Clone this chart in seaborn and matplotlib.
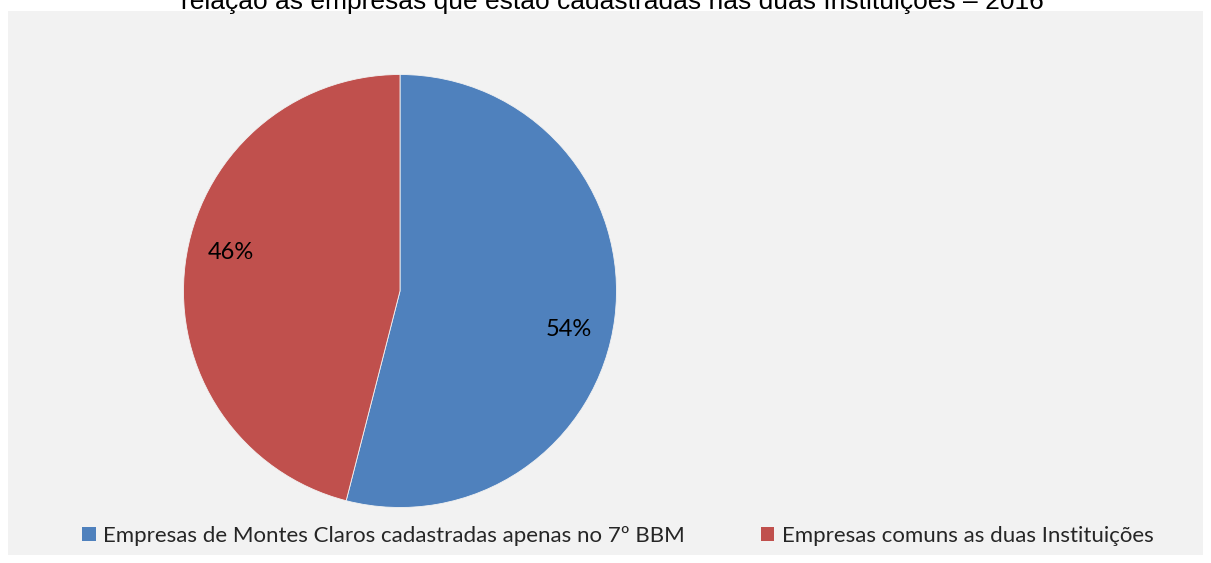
import matplotlib
matplotlib.use("Agg")
import numpy as np
import matplotlib.pyplot as plt
import seaborn as sns
from matplotlib.patches import Rectangle, Patch

categories = ["Empresas de Montes Claros cadastradas apenas no 7º BBM",
              "Empresas comuns as duas Instituições"]
values = [54, 46]
colors = ["#4F81BD", "#C0504D"]
title = "relação as empresas que estão cadastradas nas duas Instituições – 2016"

sns.set_theme(style="white")
plt.rcParams["font.family"] = ["Lato", "DejaVu Sans"]

W, H = 1211, 563
fig = plt.figure(figsize=(W / 100, H / 100), dpi=100)
fig.patch.set_facecolor("white")

# grey chart area, behind everything
fig.patches.append(Rectangle((8 / W, 8 / H), 1195 / W, 544 / H,
                             transform=fig.transFigure, facecolor="#F2F2F2",
                             edgecolor="none", zorder=-5))

# title, partly cut at the top edge like the original
fig.text(612 / W, 1 - 9 / H, title, ha="center", va="baseline",
         fontsize=19, family="Liberation Sans", color="black")

r = 216.5
cx, cy = 400, H - 291
ax = fig.add_axes([(cx - r) / W, (cy - r) / H, 2 * r / W, 2 * r / H])
ax.set_facecolor("none")
wedges, texts, autotexts = ax.pie(values, colors=colors, startangle=90,
                                  counterclock=False, autopct="%d%%",
                                  pctdistance=0.8, radius=1,
                                  wedgeprops=dict(linewidth=0.6, edgecolor="#F2F2F2"),
                                  textprops=dict(fontsize=17, color="black"))

# Excel places the percentages a few degrees further clockwise
rot = np.deg2rad(-5.5)
for t in autotexts:
    x, y = t.get_position()
    t.set_position((x * np.cos(rot) - y * np.sin(rot),
                    x * np.sin(rot) + y * np.cos(rot)))

ax.set_xlim(-1, 1)
ax.set_ylim(-1, 1)
ax.axis("off")

handles = [Patch(facecolor=c, edgecolor="none") for c in colors]
fig.legend(handles, categories, loc="center", bbox_to_anchor=(618 / W, 27 / H),
           ncol=2, frameon=False, fontsize=16, handlelength=0.6, handleheight=0.6,
           handletextpad=0.35, columnspacing=3.4)

fig.savefig("out.png", dpi=100)
